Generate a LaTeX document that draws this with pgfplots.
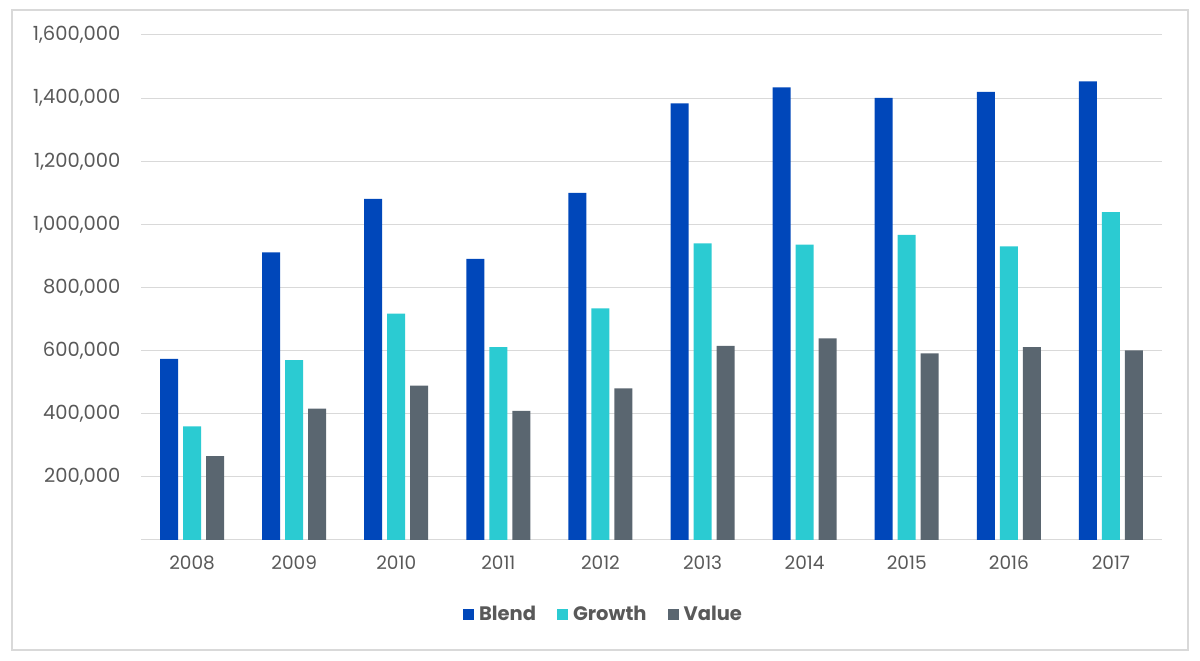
\documentclass[border=0pt]{standalone}
\usepackage{pgfplots}
\pgfplotsset{compat=1.18}
\usepackage{fontspec}
\setmainfont{Poppins}
\definecolor{cBlend}{HTML}{0047BA}
\definecolor{cGrowth}{HTML}{2BCBD2}
\definecolor{cValue}{HTML}{5A6670}
\definecolor{cGrid}{HTML}{D9D9D9}
\definecolor{cText}{HTML}{595959}
\begin{document}
\begin{tikzpicture}[x=1pt,y=1pt]
\useasboundingbox (0,0) rectangle (1200,661);
\draw[cGrid, line width=1.2pt] (12,11) rectangle (1188,651);
\begin{axis}[
  at={(141pt,121pt)}, anchor=south west,
  scale only axis, width=1021pt, height=505pt,
  ybar, bar width=18pt,
  xmin=-0.5, xmax=9.5, ymin=0, ymax=1600000,
  xtick={0,...,9},
  xticklabels={2008,2009,2010,2011,2012,2013,2014,2015,2016,2017},
  ytick={200000,400000,...,1600000},
  scaled y ticks=false,
  /pgf/number format/fixed,
  /pgf/number format/1000 sep={,},
  /pgf/number format/assume math mode=true,
  ymajorgrids, grid style={cGrid, line width=1pt},
  axis x line*=bottom, axis y line*=left,
  x axis line style={cGrid, line width=1pt, -},
  y axis line style={draw=none},
  major tick length=0pt,
  tick label style={font=\fontsize{18.5}{20}\selectfont, text=cText},
  xticklabel style={yshift=-12pt},
  yticklabel style={xshift=-17pt, font=\fontsize{19.5}{20}\selectfont},
  legend style={at={(0.4530,-0.147)}, anchor=center, draw=none, legend columns=3,
    font=\fontsize{19.5}{20}\selectfont\bfseries, text=cText,
    /tikz/every even column/.append style={column sep=19pt}},
  legend image code/.code={\fill[#1] (0pt,-5.5pt) rectangle (11pt,5.5pt); \path (14pt,0pt);},
  legend cell align=left,
]
\addplot[fill=cBlend, draw=none, bar shift=-23pt] coordinates {
 (0,574000) (1,911000) (2,1081000) (3,891000) (4,1100000)
 (5,1383000) (6,1434000) (7,1401000) (8,1420000) (9,1453000)};
\addplot[fill=cGrowth, draw=none, bar shift=0pt] coordinates {
 (0,360000) (1,570000) (2,717000) (3,611000) (4,734000)
 (5,940000) (6,936000) (7,967000) (8,930000) (9,1039000)};
\addplot[fill=cValue, draw=none, bar shift=23pt] coordinates {
 (0,266000) (1,416000) (2,489000) (3,409000) (4,480000)
 (5,615000) (6,639000) (7,591000) (8,611000) (9,601000)};
\legend{Blend,Growth,Value}
\end{axis}
\end{tikzpicture}
\end{document}
